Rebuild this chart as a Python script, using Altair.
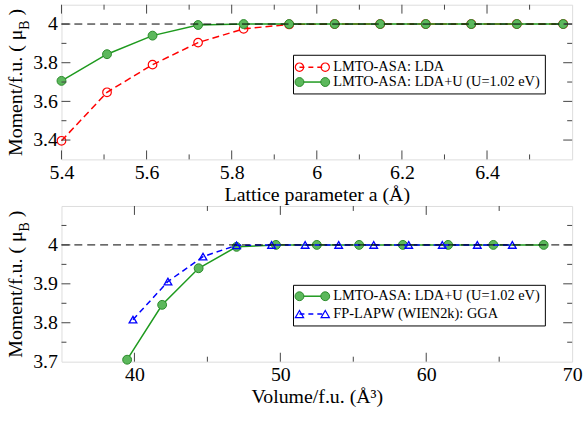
import altair as alt
import pandas as pd

# ---------------- data ----------------
a_lattice = [5.40, 5.507, 5.614, 5.721, 5.828, 5.935, 6.042, 6.149, 6.256, 6.363, 6.470, 6.579]
m_lda = [3.396, 3.647, 3.790, 3.904, 3.975, 3.998, 4.0, 4.0, 4.0, 4.0, 4.0, 4.0]
m_ldau_a = [3.706, 3.844, 3.940, 3.995, 4.0, 4.0, 4.0, 4.0, 4.0, 4.0, 4.0, 4.0]

v_ldau = [39.5, 41.9, 44.4, 47.0, 49.7, 52.5, 55.4, 58.4, 61.5, 64.6, 68.05]
m_ldau_v = [3.705, 3.846, 3.940, 3.995, 4.0, 4.0, 4.0, 4.0, 4.0, 4.0, 4.0]

v_gga = [39.9, 42.3, 44.7, 47.0, 49.4, 51.7, 54.0, 56.4, 58.8, 61.1, 63.5, 65.9]
m_gga = [3.808, 3.906, 3.970, 3.999, 4.0, 4.0, 4.0, 4.0, 4.0, 4.0, 4.0, 4.0]

top_x_labels = [5.4, 5.6, 5.8, 6.0, 6.2, 6.4]
top_x_major = [5.4, 5.6, 5.8, 6.0, 6.2, 6.4]
top_x_minor = [5.5, 5.7, 5.9, 6.1, 6.3, 6.5]
top_y_labels = [3.4, 3.6, 3.8, 4.0]
top_y_major = [3.4, 3.6, 3.8, 4.0]
top_y_minor = [3.5, 3.7, 3.9]

bot_x_labels = [40, 50, 60, 70]
bot_x_major = [40, 50, 60]
bot_x_minor = [45, 55, 65]
bot_y_labels = [3.7, 3.8, 3.9, 4.0]
bot_y_major = [3.8, 3.9, 4.0]
bot_y_minor = [3.75, 3.85, 3.95, 4.05]

FONT = "Liberation Serif"
RED = "#ff0000"
GREEN_LINE = "#1e9a1e"
GREEN_FILL = "#5cb85c"
GREEN_STROKE = "#2a8a2a"
BLUE = "#0000ff"
TICK = "#444444"

W = 515
H_TOP = 156
H_BOT = 157

one = pd.DataFrame({"k": [0]})


def tick_layers(xmaj, xmin, ymaj, ymin, xs, ys, W, H):
    layers = []
    for vals, L in [(xmaj, 9), (xmin, 5)]:
        df = pd.DataFrame({"v": vals})
        base = alt.Chart(df).mark_rule(color=TICK, strokeWidth=1)
        xe = alt.X("v:Q", scale=xs)
        layers.append(base.encode(x=xe, y=alt.value(H), y2=alt.value(H - L)))
        layers.append(base.encode(x=xe, y=alt.value(0), y2=alt.value(L)))
    for vals, L in [(ymaj, 9), (ymin, 5)]:
        df = pd.DataFrame({"v": vals})
        base = alt.Chart(df).mark_rule(color=TICK, strokeWidth=1)
        ye = alt.Y("v:Q", scale=ys)
        layers.append(base.encode(y=ye, x=alt.value(0), x2=alt.value(L)))
        layers.append(base.encode(y=ye, x=alt.value(W - L), x2=alt.value(W)))
    return layers


def ytitle_layers(center):
    fs = 20
    wA = 126.7
    total = 147.7
    start = center + total / 2
    yA = start - wA
    yC = yA - 9.3 - 5
    t = alt.Chart(one)
    return [
        t.mark_text(angle=270, font=FONT, fontSize=fs, align="right", baseline="middle", color="black")
        .encode(x=alt.value(-46), y=alt.value(yA), text=alt.value("Moment/f.u. ( μ")),
        t.mark_text(angle=270, font=FONT, fontSize=14, align="left", baseline="middle", color="black")
        .encode(x=alt.value(-37), y=alt.value(yA), text=alt.value("B")),
        t.mark_text(angle=270, font=FONT, fontSize=fs, align="left", baseline="middle", color="black")
        .encode(x=alt.value(-46), y=alt.value(yC), text=alt.value(")")),
    ]


def legend_entry(y, label, line_color, dash, shape, filled, fill, stroke):
    t = alt.Chart(one)
    x1, x2 = 240, 266
    rule_kwargs = dict(color=line_color, strokeWidth=1.5)
    if dash:
        rule_kwargs["strokeDash"] = dash
    layers = [t.mark_rule(**rule_kwargs).encode(x=alt.value(x1), x2=alt.value(x2), y=alt.value(y))]
    for xp in (x1, x2):
        if filled:
            pm = t.mark_point(shape=shape, filled=True, fill=fill, stroke=stroke, strokeWidth=1, size=80, opacity=1)
        else:
            pm = t.mark_point(shape=shape, filled=False, color=stroke, strokeWidth=1.2, size=70, opacity=1)
        layers.append(pm.encode(x=alt.value(xp), y=alt.value(y)))
    layers.append(
        t.mark_text(font=FONT, fontSize=14.5, align="left", baseline="middle", color="black")
        .encode(x=alt.value(274), y=alt.value(y), text=alt.value(label))
    )
    return layers


def legend_box(y1, y2):
    return alt.Chart(one).mark_rect(fill="white", stroke="black", strokeWidth=1).encode(
        x=alt.value(234), x2=alt.value(488), y=alt.value(y1), y2=alt.value(y2)
    )


def axis_x(values, title):
    return alt.Axis(values=values, format="~g", title=title, tickSize=0, labelPadding=3,
                    domain=False, grid=False, labelFlush=False, labelOverlap=False,
                    titlePadding=2, titleFont=FONT, titleFontSize=20, titleFontWeight="normal",
                    labelFont=FONT, labelFontSize=20, labelColor="black", titleColor="black")


def axis_y(values):
    return alt.Axis(values=values, format="~g", title=None, tickSize=0, labelPadding=4,
                    domain=False, grid=False, labelFlush=False, labelOverlap=False,
                    labelFont=FONT, labelFontSize=20, labelColor="black")


# ---------------- top panel ----------------
xs_top = alt.Scale(domain=[5.4, 6.6], nice=False, zero=False)
ys_top = alt.Scale(domain=[3.3, 4.1], nice=False, zero=False)

df_top = pd.DataFrame({"a": a_lattice, "lda": m_lda, "ldau": m_ldau_a})

base_top = alt.Chart(df_top)
red_line = base_top.mark_line(color=RED, strokeDash=[7, 4], strokeWidth=1.5).encode(
    x=alt.X("a:Q", scale=xs_top, axis=axis_x(top_x_labels, "Lattice parameter a (Å)")),
    y=alt.Y("lda:Q", scale=ys_top, axis=axis_y(top_y_labels)),
)
red_pts = base_top.mark_point(shape="circle", filled=False, color=RED, size=75, strokeWidth=1.2, opacity=1).encode(
    x=alt.X("a:Q", scale=xs_top), y=alt.Y("lda:Q", scale=ys_top)
)
green_line = base_top.mark_line(color=GREEN_LINE, strokeWidth=1.5).encode(
    x=alt.X("a:Q", scale=xs_top), y=alt.Y("ldau:Q", scale=ys_top)
)
green_pts = base_top.mark_point(shape="circle", filled=True, fill=GREEN_FILL, stroke=GREEN_STROKE,
                                strokeWidth=1, size=80, opacity=1).encode(
    x=alt.X("a:Q", scale=xs_top), y=alt.Y("ldau:Q", scale=ys_top)
)
ref_top = alt.Chart(one).mark_rule(color="black", strokeDash=[8, 5], strokeWidth=1).encode(
    y=alt.Y("datum_y:Q", scale=ys_top)
).transform_calculate(datum_y="4")

top = alt.layer(
    red_line, red_pts, green_line, green_pts, ref_top,
    *tick_layers(top_x_major, top_x_minor, top_y_major, top_y_minor, xs_top, ys_top, W, H_TOP),
    legend_box(51, 90),
    *legend_entry(63, "LMTO-ASA: LDA", RED, [5, 4], "circle", False, None, RED),
    *legend_entry(78, "LMTO-ASA: LDA+U (U=1.02 eV)", GREEN_LINE, None, "circle", True, GREEN_FILL, GREEN_STROKE),
    *ytitle_layers(H_TOP / 2),
).properties(width=W, height=H_TOP)

# ---------------- bottom panel ----------------
xs_bot = alt.Scale(domain=[35, 70], nice=False, zero=False)
ys_bot = alt.Scale(domain=[3.7, 4.1], nice=False, zero=False)

df_ldau = pd.DataFrame({"v": v_ldau, "m": m_ldau_v})
df_gga = pd.DataFrame({"v": v_gga, "m": m_gga})

g_line = alt.Chart(df_ldau).mark_line(color=GREEN_LINE, strokeWidth=1.5).encode(
    x=alt.X("v:Q", scale=xs_bot, axis=axis_x(bot_x_labels, "Volume/f.u. (Å³)")),
    y=alt.Y("m:Q", scale=ys_bot, axis=axis_y(bot_y_labels)),
)
g_pts = alt.Chart(df_ldau).mark_point(shape="circle", filled=True, fill=GREEN_FILL, stroke=GREEN_STROKE,
                                      strokeWidth=1, size=80, opacity=1).encode(
    x=alt.X("v:Q", scale=xs_bot), y=alt.Y("m:Q", scale=ys_bot)
)
b_line = alt.Chart(df_gga).mark_line(color=BLUE, strokeDash=[6, 4], strokeWidth=1.5).encode(
    x=alt.X("v:Q", scale=xs_bot), y=alt.Y("m:Q", scale=ys_bot)
)
b_pts = alt.Chart(df_gga).mark_point(shape="triangle-up", filled=False, color=BLUE, size=60,
                                     strokeWidth=1.3, opacity=1).encode(
    x=alt.X("v:Q", scale=xs_bot), y=alt.Y("m:Q", scale=ys_bot)
)
ref_bot = alt.Chart(one).mark_rule(color="black", strokeDash=[8, 5], strokeWidth=1).encode(
    y=alt.Y("datum_y:Q", scale=ys_bot)
).transform_calculate(datum_y="4")

bottom = alt.layer(
    g_line, g_pts, b_line, b_pts, ref_bot,
    *tick_layers(bot_x_major, bot_x_minor, bot_y_major, bot_y_minor, xs_bot, ys_bot, W, H_BOT),
    legend_box(80, 121),
    *legend_entry(91, "LMTO-ASA: LDA+U (U=1.02 eV)", GREEN_LINE, None, "circle", True, GREEN_FILL, GREEN_STROKE),
    *legend_entry(109, "FP-LAPW (WIEN2k): GGA", BLUE, [5, 4], "triangle-up", False, None, BLUE),
    *ytitle_layers(H_BOT / 2),
).properties(width=W, height=H_BOT)

chart = alt.vconcat(top, bottom, spacing=0).properties(
    padding={"left": 5, "top": 2, "right": 5, "bottom": 0}
).configure_view(stroke="black", strokeWidth=1.5).configure_axis(
    labelFont=FONT, titleFont=FONT
).configure(background="white")

chart.save("out.html", embed_options={"renderer": "svg", "actions": False})
